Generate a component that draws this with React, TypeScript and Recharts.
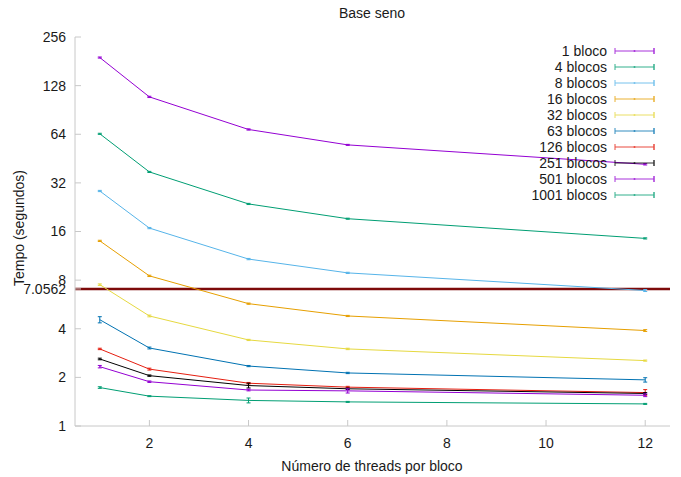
import { LineChart, Line, XAxis, YAxis, ReferenceLine, ErrorBar } from "recharts";

const threads = [1, 2, 4, 6, 12];

const seriesNames = [
  "1 bloco",
  "4 blocos",
  "8 blocos",
  "16 blocos",
  "32 blocos",
  "63 blocos",
  "126 blocos",
  "251 blocos",
  "501 blocos",
  "1001 blocos",
];

const seriesColors = [
  "#9400d3",
  "#009e73",
  "#56b4e9",
  "#e69f00",
  "#e6d940",
  "#0072b2",
  "#e51e10",
  "#000000",
  "#9400d3",
  "#009e73",
];

// tempo médio (s) por número de threads
const b1 = [191, 109, 68.5, 55, 41.7];
const b4 = [64.4, 37.4, 23.7, 19.2, 14.5];
const b8 = [28.5, 16.8, 10.8, 8.87, 6.9];
const b16 = [14.0, 8.5, 5.72, 4.8, 3.9];
const b32 = [7.5, 4.8, 3.41, 3.0, 2.54];
const b63 = [4.55, 3.04, 2.35, 2.13, 1.93];
const b126 = [3.0, 2.25, 1.84, 1.74, 1.61];
const b251 = [2.6, 2.05, 1.78, 1.7, 1.59];
const b501 = [2.33, 1.88, 1.67, 1.65, 1.55];
const b1001 = [1.73, 1.53, 1.44, 1.41, 1.37];

// desvio padrão
const e1 = [1.5, 1.0, 0.6, 0.4, 0.4];
const e4 = [0.5, 0.3, 0.2, 0.15, 0.12];
const e8 = [0.25, 0.15, 0.1, 0.08, 0.1];
const e16 = [0.12, 0.08, 0.05, 0.04, 0.05];
const e32 = [0.08, 0.06, 0.03, 0.03, 0.02];
const e63 = [0.2, 0.04, 0.02, 0.02, 0.06];
const e126 = [0.03, 0.03, 0.02, 0.02, 0.07];
const e251 = [0.03, 0.02, 0.06, 0.02, 0.02];
const e501 = [0.04, 0.02, 0.02, 0.05, 0.03];
const e1001 = [0.02, 0.01, 0.05, 0.01, 0.01];

const values = [b1, b4, b8, b16, b32, b63, b126, b251, b501, b1001];
const errors = [e1, e4, e8, e16, e32, e63, e126, e251, e501, e1001];

const yTicks = [1, 2, 4, 7.0562, 8, 16, 32, 64, 128, 256];
const xTicks = [2, 4, 6, 8, 10, 12];
const threshold = 7.0562;

const rows = threads.map((t, i) => {
  const row: Record<string, number> = { t };
  values.forEach((v, s) => {
    row[`s${s}`] = v[i];
    row[`e${s}`] = errors[s][i];
  });
  return row;
});

const font = "'Liberation Sans', Arial, sans-serif";
const border = "#c8c8c8";
const tickStyle = { fontSize: 14, fill: "#1a1a1a", fontFamily: font };

export default function App() {
  return (
    <div style={{ position: "absolute", left: 0, top: 0, width: 681, height: 477, background: "#fff" }}>
      <LineChart
        width={681}
        height={477}
        data={rows}
        margin={{ top: 37, right: 11, left: 0, bottom: 21 }}
      >
        <XAxis
          dataKey="t"
          type="number"
          domain={[0.5, 12.5]}
          ticks={xTicks}
          allowDataOverflow
          height={30}
          stroke={border}
          tickSize={-6}
          tickMargin={18}
          tick={tickStyle}
        />
        <XAxis
          xAxisId="top"
          orientation="top"
          type="number"
          domain={[0.5, 12.5]}
          ticks={xTicks}
          allowDataOverflow
          height={0}
          stroke={border}
          tickSize={-6}
          tickFormatter={() => ""}
        />
        <YAxis
          scale="log"
          type="number"
          domain={[1, 256]}
          ticks={yTicks}
          allowDataOverflow
          width={75}
          stroke={border}
          tickSize={-6}
          tickMargin={15}
          tick={tickStyle}
          interval={0}
        />
        <YAxis
          yAxisId="right"
          orientation="right"
          scale="log"
          type="number"
          domain={[1, 256]}
          ticks={[1, 2, 4, 8, 16, 32, 64, 128, 256]}
          allowDataOverflow
          width={0}
          stroke={border}
          tickSize={-6}
          tickFormatter={() => ""}
        />
        <ReferenceLine y={threshold} stroke="#7d0a0a" strokeWidth={2.5} ifOverflow="extendDomain" />
        {seriesNames.map((name, s) => (
          <Line
            key={name}
            name={name}
            dataKey={`s${s}`}
            stroke={seriesColors[s]}
            strokeWidth={1}
            dot={false}
            isAnimationActive={false}
          >
            <ErrorBar dataKey={`e${s}`} width={2} stroke={seriesColors[s]} strokeWidth={1} direction="y" />
          </Line>
        ))}
      </LineChart>
      <svg
        width={681}
        height={477}
        style={{ position: "absolute", left: 0, top: 0, pointerEvents: "none" }}
        fontFamily={font}
      >
        <text x={372} y={13} fontSize={14} textAnchor="middle" dominantBaseline="central" fill="#1a1a1a">
          Base seno
        </text>
        <text
          x={372}
          y={466}
          fontSize={14}
          textAnchor="middle"
          dominantBaseline="central"
          fill="#1a1a1a"
        >
          Número de threads por bloco
        </text>
        <text
          transform="translate(19,228) rotate(-90)"
          fontSize={14}
          textAnchor="middle"
          dominantBaseline="central"
          fill="#1a1a1a"
        >
          Tempo (segundos)
        </text>
        {seriesNames.map((name, s) => {
          const y = 51 + s * 16;
          const c = seriesColors[s];
          return (
            <g key={name}>
              <text x={607} y={y} fontSize={14} textAnchor="end" dominantBaseline="central" fill="#1a1a1a">
                {name}
              </text>
              <g opacity={0.8}>
                <line x1={615} x2={654} y1={y} y2={y} stroke={c} strokeWidth={1} />
                <line x1={615} x2={615} y1={y - 3} y2={y + 3} stroke={c} strokeWidth={1} />
                <line x1={654} x2={654} y1={y - 3} y2={y + 3} stroke={c} strokeWidth={1.5} />
                <circle cx={634.5} cy={y} r={1} fill={c} />
              </g>
            </g>
          );
        })}
      </svg>
    </div>
  );
}
